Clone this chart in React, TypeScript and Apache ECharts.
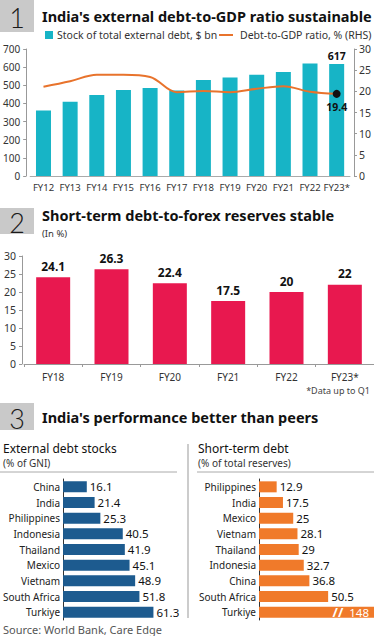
import React, { useEffect, useRef } from 'react';
import * as echarts from 'echarts';

const FONT = '"Noto Sans", Lato, sans-serif';
const DIGIT_FONT = 'Lato, "Noto Sans", sans-serif';

// Chart 1 data
const debtYears = ['FY12', 'FY13', 'FY14', 'FY15', 'FY16', 'FY17', 'FY18', 'FY19', 'FY20', 'FY21', 'FY22', 'FY23*'];
const debtStock = [360.8, 409.4, 446.2, 474.7, 484.8, 471.0, 529.3, 543.1, 558.4, 573.7, 620.7, 617.1];
const debtToGdp = [21.1, 22.4, 23.9, 23.9, 23.4, 19.8, 20.1, 19.8, 20.6, 21.2, 19.9, 19.4];

// Chart 2 data
const stYears = ['FY18', 'FY19', 'FY20', 'FY21', 'FY22', 'FY23*'];
const stRatio = [24.1, 26.3, 22.4, 17.5, 20, 22];

// Chart 3 data
const extCountries = ['China', 'India', 'Philippines', 'Indonesia', 'Thailand', 'Mexico', 'Vietnam', 'South Africa', 'Turkiye'];
const extValues = [16.1, 21.4, 25.3, 40.5, 41.9, 45.1, 48.9, 51.8, 61.3];
const stdCountries = ['Philippines', 'India', 'Mexico', 'Vietnam', 'Thailand', 'Indonesia', 'China', 'South Africa', 'Turkiye'];
const stdValues = [12.9, 17.5, 25, 28.1, 29, 32.7, 36.8, 50.5, 148];

const TEAL = '#17b4c6';
const ORANGE_LINE = '#e8732c';
const CRIMSON = '#e8184f';
const BLUE = '#1d5b8f';
const ORANGE_BAR = '#f07a2a';
const BOX = '#c9c9c9';

function txt(text: string, x: number, y: number, size: number, opts: any = {}) {
  return {
    type: 'text',
    x,
    y,
    style: {
      text,
      fontSize: size,
      fontFamily: FONT,
      fontWeight: opts.weight || 'normal',
      fill: opts.fill || '#222',
      align: opts.align || 'left',
      verticalAlign: 'middle',
    },
  };
}

function box(num: string, y: number, h: number) {
  return [
    { type: 'rect', shape: { x: 0, y, width: 34, height: h }, style: { fill: BOX } },
    {
      type: 'text',
      x: 17,
      y: y + h / 2 + 1.5,
      style: { text: num, fontSize: 27, lineHeight: 28, fontFamily: DIGIT_FONT, fontWeight: 300, fill: '#1a1a1a', align: 'center', verticalAlign: 'middle' },
    },
  ];
}

export default function App() {
  const ref = useRef<HTMLDivElement>(null);
  useEffect(() => {
    document.body.style.margin = '0';
    const chart = echarts.init(ref.current!, null, { renderer: 'svg' });
    const axisLabel = { fontFamily: FONT, color: '#333', fontSize: 10 };
    const option: any = {
      animation: false,
      textStyle: { fontFamily: FONT },
      grid: [
        { left: 26, top: 49, width: 327, height: 127 },
        { left: 24, top: 256, width: 358, height: 108 },
        { left: 61, top: 479, width: 120, height: 141 },
        { left: 259, top: 479, width: 115, height: 141 },
      ],
      xAxis: [
        {
          type: 'category', gridIndex: 0, data: debtYears,
          axisLine: { lineStyle: { color: '#aaa' } }, axisTick: { show: false },
          axisLabel: { ...axisLabel, fontSize: 9.5, margin: 6, interval: 0 },
        },
        {
          type: 'category', gridIndex: 1, data: stYears,
          axisLine: { lineStyle: { color: '#999' } }, axisTick: { show: true, length: 3, lineStyle: { color: '#999' } },
          axisLabel: { ...axisLabel, fontSize: 10, margin: 8, interval: 0 },
        },
        { type: 'value', gridIndex: 2, min: 0, max: 80, show: false },
        { type: 'value', gridIndex: 3, min: 0, max: 84, show: false },
      ],
      yAxis: [
        {
          type: 'value', gridIndex: 0, min: 0, max: 700, interval: 100, position: 'left', offset: 4,
          axisLine: { show: true, lineStyle: { color: '#999' } }, axisTick: { show: true, length: 3, lineStyle: { color: '#999' } },
          axisLabel: { ...axisLabel, margin: 6 }, splitLine: { show: false },
        },
        {
          type: 'value', gridIndex: 0, min: 0, max: 30, interval: 5, position: 'right', offset: 4,
          axisLine: { show: true, lineStyle: { color: '#999' } }, axisTick: { show: true, length: 3, lineStyle: { color: '#999' } },
          axisLabel: { ...axisLabel, fontSize: 10.5, margin: 5 }, splitLine: { show: false },
        },
        {
          type: 'value', gridIndex: 1, min: 0, max: 30, interval: 5, position: 'left', offset: 2,
          axisLine: { show: true, lineStyle: { color: '#999' } }, axisTick: { show: true, length: 3, lineStyle: { color: '#999' } },
          axisLabel: { ...axisLabel, fontSize: 10.5, margin: 6 }, splitLine: { show: false },
        },
        {
          type: 'category', gridIndex: 2, data: extCountries, inverse: true,
          axisLine: { show: true, lineStyle: { color: '#333' } }, axisTick: { show: false },
          axisLabel: { ...axisLabel, color: '#222', margin: 3 },
        },
        {
          type: 'category', gridIndex: 3, data: stdCountries, inverse: true,
          axisLine: { show: true, lineStyle: { color: '#333' } }, axisTick: { show: false },
          axisLabel: { ...axisLabel, color: '#222', margin: 3 },
        },
      ],
      series: [
        {
          type: 'bar', xAxisIndex: 0, yAxisIndex: 0, barWidth: 15,
          itemStyle: { color: TEAL },
          data: debtStock.map((v, i) =>
            i === debtStock.length - 1
              ? { value: v, label: { show: true, position: 'top', distance: 3, formatter: '617', fontFamily: FONT, fontWeight: 'bold', fontSize: 10.5, color: '#111' } }
              : v
          ),
        },
        {
          type: 'line', xAxisIndex: 0, yAxisIndex: 1, smooth: 0.35,
          symbol: 'circle', symbolSize: 0, showSymbol: true,
          lineStyle: { color: ORANGE_LINE, width: 2 },
          itemStyle: { color: ORANGE_LINE },
          data: debtToGdp.map((v, i) =>
            i === debtToGdp.length - 1
              ? {
                  value: v, symbolSize: 8, itemStyle: { color: '#111' },
                  label: { show: true, position: 'bottom', distance: 4, formatter: '{c}', fontFamily: FONT, fontWeight: 'bold', fontSize: 10.5, color: '#111' },
                }
              : v
          ),
          z: 5,
        },
        {
          type: 'bar', xAxisIndex: 1, yAxisIndex: 2, barWidth: 34,
          itemStyle: { color: CRIMSON },
          label: { show: true, position: 'top', distance: 5, fontFamily: FONT, fontWeight: 'bold', fontSize: 12, color: '#111' },
          data: stRatio,
        },
        {
          type: 'bar', xAxisIndex: 2, yAxisIndex: 3, barWidth: 11,
          itemStyle: { color: BLUE },
          label: { show: true, position: 'right', distance: 3, fontFamily: FONT, fontSize: 11.5, color: '#111' },
          data: extValues,
        },
        {
          type: 'bar', xAxisIndex: 3, yAxisIndex: 4, barWidth: 11, clip: true,
          itemStyle: { color: ORANGE_BAR },
          label: { show: true, position: 'right', distance: 3, fontFamily: FONT, fontSize: 11.5, color: '#111' },
          data: stdValues.map((v, i) =>
            i === stdValues.length - 1
              ? {
                  value: v,
                  label: {
                    show: true, position: 'insideRight', distance: 0, offset: [-5, 0],
                    formatter: '{brk|//}  {c}',
                    color: '#fff', fontSize: 11.5, fontFamily: FONT,
                    rich: { brk: { color: '#fff', fontSize: 13, fontWeight: 'bold', fontFamily: FONT } },
                  },
                }
              : v
          ),
        },
      ],
      graphic: [
        // Section 1
        ...box('1', 0, 32),
        txt("India's external debt-to-GDP ratio sustainable", 42, 15.5, 14.5, { weight: 'bold', fill: '#111' }),
        { type: 'rect', shape: { x: 45, y: 31, width: 8, height: 8 }, style: { fill: TEAL } },
        txt('Stock of total external debt, $ bn', 57, 35, 10.5, { fill: '#333' }),
        { type: 'line', shape: { x1: 219, y1: 35, x2: 233, y2: 35 }, style: { stroke: ORANGE_LINE, lineWidth: 2 } },
        txt('Debt-to-GDP ratio, % (RHS)', 240, 35, 10.5, { fill: '#333' }),
        // Section 2
        ...box('2', 208, 26),
        txt('Short-term debt-to-forex reserves stable', 42, 215, 14.5, { weight: 'bold', fill: '#111' }),
        txt('(In %)', 42, 233, 9.5, { fill: '#333' }),
        txt('*Data up to Q1', 370, 390, 9, { fill: '#444', align: 'right' }),
        // Section 3
        ...box('3', 403, 27),
        txt("India's performance better than peers", 42, 417, 14.5, { weight: 'bold', fill: '#111' }),
        txt('External debt stocks', 3, 448, 12, { fill: '#111' }),
        txt('(% of GNI)', 3, 463, 10, { fill: '#333' }),
        { type: 'line', shape: { x1: 0, y1: 472, x2: 177, y2: 472 }, style: { stroke: '#aaa', lineWidth: 1 } },
        txt('Short-term debt', 198, 448, 12, { fill: '#111' }),
        txt('(% of total reserves)', 198, 463, 10, { fill: '#333' }),
        { type: 'line', shape: { x1: 197, y1: 472, x2: 374, y2: 472 }, style: { stroke: '#aaa', lineWidth: 1 } },
        { type: 'line', shape: { x1: 188, y1: 444, x2: 188, y2: 618 }, style: { stroke: '#ccc', lineWidth: 2 } },
        txt('Source: World Bank, Care Edge', 3, 629, 11, { fill: '#555' }),
      ],
    };
    chart.setOption(option);
    return () => chart.dispose();
  }, []);
  return <div ref={ref} style={{ width: 374, height: 636 }} />;
}
